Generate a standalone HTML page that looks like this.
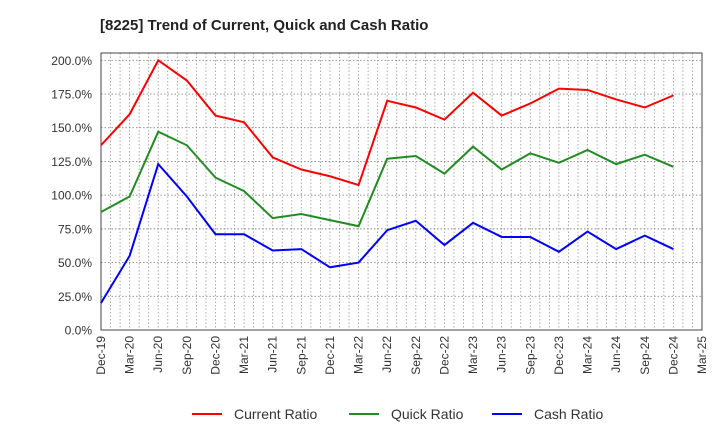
<!DOCTYPE html>
<html><head><meta charset="utf-8"><style>
body{margin:0;background:#fff}
svg text{font-family:"Liberation Sans",sans-serif;}
</style></head><body>
<svg width="720" height="440" xmlns="http://www.w3.org/2000/svg">
<text x="100" y="30" font-size="15" font-weight="bold" fill="#222">[8225]  Trend of Current, Quick and Cash Ratio</text>
<g id="grid"></g>
<rect x="101" y="53" width="601" height="277" fill="none" stroke="#444" stroke-width="1"/>
<g id="series"></g>
<g id="legend"></g>
</svg>
<script>
const xLabels=["Dec-19","Mar-20","Jun-20","Sep-20","Dec-20","Mar-21","Jun-21","Sep-21","Dec-21","Mar-22","Jun-22","Sep-22","Dec-22","Mar-23","Jun-23","Sep-23","Dec-23","Mar-24","Jun-24","Sep-24","Dec-24","Mar-25"];
const yTicks=[0,25,50,75,100,125,150,175,200];
const currentRatio=[137,160,200,185,159,154,128,119,114,107.5,170,165,156,176,159,168,179,178,171,165,174];
const quickRatio=[87.5,99,147,137,113,103,83,86,81.5,77,127,129,116,136,119,131,124,133.5,123,130,121];
const cashRatio=[20,55,123,99,71,71,59,60,46.5,50,74,81,63,79.5,69,69,58,73,60,70,60];
const NS="http://www.w3.org/2000/svg";
const L=101,R=702,T=60.3,B=330,months=63;
const xm=m=>L+(R-L)*m/months;
const xq=i=>xm(i*3);
const y=v=>B-(B-T)*v/200;
const grid=document.getElementById('grid');
for(let m=1;m<months;m++){
 const l=document.createElementNS(NS,'line');
 
 
 l.setAttribute('x1',xm(m));l.setAttribute('x2',xm(m));l.setAttribute('y1',53);l.setAttribute('y2',B);
 l.setAttribute('stroke','#999');l.setAttribute('stroke-dasharray','1.5,2');l.setAttribute('stroke-width','0.8');
 grid.appendChild(l);
}
yTicks.forEach(v=>{
 const l=document.createElementNS(NS,'line');
 
 
 l.setAttribute('x1',L);l.setAttribute('x2',R);l.setAttribute('y1',y(v));l.setAttribute('y2',y(v));
 l.setAttribute('stroke','#888');l.setAttribute('stroke-dasharray','1.5,2');l.setAttribute('stroke-width','0.9');
 grid.appendChild(l);
 const t=document.createElementNS(NS,'text');
 
 
 t.setAttribute('x',92);t.setAttribute('y',y(v)+4.5);t.setAttribute('text-anchor','end');t.setAttribute('font-size','12');t.setAttribute('fill','#333');
 t.textContent=v.toFixed(1)+'%';grid.appendChild(t);
});
xLabels.forEach((s,i)=>{
 const t=document.createElementNS(NS,'text');
 
 
 const x=xq(i)+4;
 t.setAttribute('transform','translate('+x+',336) rotate(-90)');
 t.setAttribute('text-anchor','end');t.setAttribute('font-size','12');t.setAttribute('fill','#333');
 t.textContent=s;grid.appendChild(t);
});
const ser=document.getElementById('series');
[[currentRatio,'#ff0000','current-ratio-line'],[quickRatio,'#228b22','quick-ratio-line'],[cashRatio,'#0000ff','cash-ratio-line']].forEach(([d,c,n])=>{
 const p=document.createElementNS(NS,'polyline');
 
 
 p.setAttribute('points',d.map((v,i)=>xq(i)+','+y(v)).join(' '));
 p.setAttribute('fill','none');p.setAttribute('stroke',c);p.setAttribute('stroke-width','2');
 ser.appendChild(p);
});
const lg=document.getElementById('legend');
[['Current Ratio','#ff0000',192],['Quick Ratio','#228b22',349],['Cash Ratio','#0000ff',492]].forEach(([s,c,x])=>{
 const l=document.createElementNS(NS,'line');
 
 
 l.setAttribute('x1',x);l.setAttribute('x2',x+30);l.setAttribute('y1',414);l.setAttribute('y2',414);
 l.setAttribute('stroke',c);l.setAttribute('stroke-width','2');lg.appendChild(l);
 const t=document.createElementNS(NS,'text');
 
 
 t.setAttribute('x',x+42);t.setAttribute('y',419);t.setAttribute('font-size','14');t.setAttribute('fill','#333');
 t.textContent=s;lg.appendChild(t);
});
</script>
</body></html>
